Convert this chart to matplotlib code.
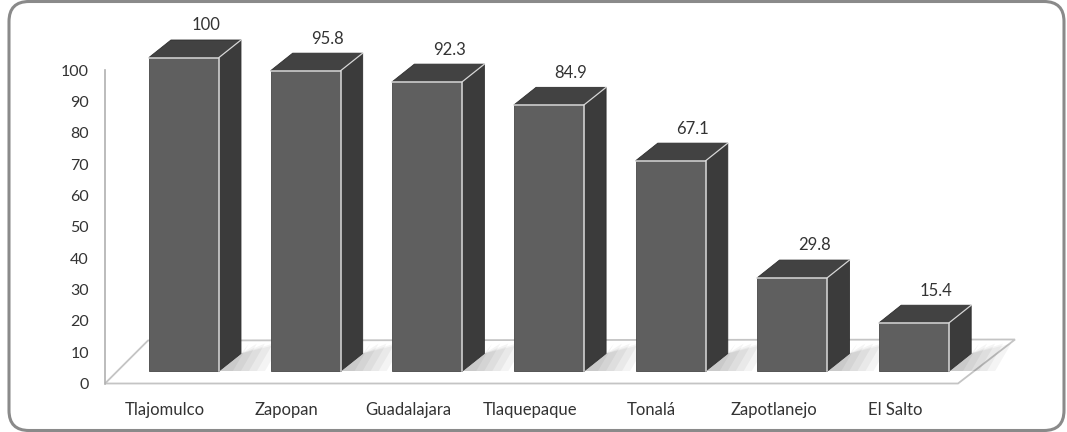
import matplotlib.pyplot as plt
from matplotlib.patches import Polygon, Rectangle, FancyBboxPatch
from matplotlib.transforms import IdentityTransform

# data
categories = ['Tlajomulco', 'Zapopan', 'Guadalajara', 'Tlaquepaque', 'Tonalá', 'Zapotlanejo', 'El Salto']
values = [100, 95.8, 92.3, 84.9, 67.1, 29.8, 15.4]
yticks = [0, 10, 20, 30, 40, 50, 60, 70, 80, 90, 100]

plt.rcParams['font.family'] = ['Lato', 'DejaVu Sans']

W, H = 1067, 432
fig = plt.figure(figsize=(W / 100, H / 100), dpi=100)

# rounded frame around everything (pixel coords, origin bottom-left)
frame = FancyBboxPatch((9, 1.5), 1055, 429,
                       boxstyle='round,pad=0,rounding_size=20',
                       transform=IdentityTransform(), facecolor='white',
                       edgecolor='#8a8a8a', linewidth=2.2, zorder=-1)
fig.patches.append(frame)

ax = fig.add_axes([105 / W, 1 - 383.5 / H, 853 / W, 313.5 / H])
ax.set_xlim(-0.649, 6.36)
ax.set_ylim(0, 100)
ax.patch.set_visible(False)

px_x = 853 / (6.36 + 0.649)   # pixels per category unit
px_y = 313.5 / 100            # pixels per value unit

# floor (oblique)
xl, xr = ax.get_xlim()
floor = Polygon([(xl, 0), (xr, 0), (xr + 57 / px_x, 44 / px_y), (xl + 43 / px_x, 43 / px_y)],
                closed=True, facecolor='white', edgecolor='#c4c4c4', linewidth=1.3,
                clip_on=False, zorder=1)
ax.add_patch(floor)

# bar geometry
w = 70 / px_x
lift = 12.5 / px_y
dx = 22 / px_x
dy = 17.5 / px_y

front_col = '#5f5f5f'
side_col = '#3b3b3b'
top_col = '#424242'
edge_col = '#d8d8d8'

for i, v in enumerate(values):
    x0, x1 = i - w / 2, i + w / 2
    y0, y1 = lift, lift + v
    # soft shadow on the floor, cast to the right of the bar
    for e in [14, 22, 30, 38, 46]:
        sh = Polygon([(x1, y0), (x1 + dx, y0 + dy), (x1 + (e - 6) / px_x + dx, y0 + 27.5 / px_y),
                      (x1 + e / px_x, y0)],
                     closed=True, facecolor='black', alpha=0.045, linewidth=0, clip_on=False, zorder=2)
        ax.add_patch(sh)
    side = Polygon([(x1, y0), (x1 + dx, y0 + dy), (x1 + dx, y1 + dy), (x1, y1)],
                   closed=True, facecolor=side_col, edgecolor='#2e2e2e', linewidth=0.6,
                   clip_on=False, zorder=3)
    top = Polygon([(x0, y1), (x1, y1), (x1 + dx, y1 + dy), (x0 + dx, y1 + dy)],
                  closed=True, facecolor=top_col, edgecolor='#2e2e2e', linewidth=0.6,
                  clip_on=False, zorder=3)
    front = Rectangle((x0, y0), w, v, facecolor=front_col, edgecolor='#484848',
                      linewidth=0.6, clip_on=False, zorder=4)
    ax.add_patch(side)
    ax.add_patch(top)
    ax.add_patch(front)
    # light highlight edges
    ax.plot([x0, x1, x1], [y1, y1, y0], color=edge_col, lw=1.1, clip_on=False, zorder=5,
            solid_joinstyle='miter')
    ax.plot([x1, x1 + dx], [y1, y1 + dy], color=edge_col, lw=0.9, clip_on=False, zorder=5)
    ax.annotate(f'{v:g}', (i + dx, y1 + dy), xytext=(0, 10.5), textcoords='offset points',
                ha='center', va='center', fontsize=12, color='#333333', zorder=6,
                annotation_clip=False)

# axes styling
for s in ['top', 'right', 'bottom']:
    ax.spines[s].set_visible(False)
ax.spines['left'].set_color('#b0b0b0')
ax.spines['left'].set_linewidth(1.2)
ax.spines['left'].set_bounds(0, 100)
ax.set_yticks(yticks)
ax.set_yticklabels([str(t) for t in yticks])
ax.tick_params(axis='y', length=0, pad=11.5, labelsize=11.5, labelcolor='#333333')
ax.set_xticks([i - 19 / px_x for i in range(len(categories))])
ax.set_xticklabels(categories)
ax.tick_params(axis='x', length=0, pad=13, labelsize=12, labelcolor='#333333')

fig.savefig('out.png', dpi=100)
